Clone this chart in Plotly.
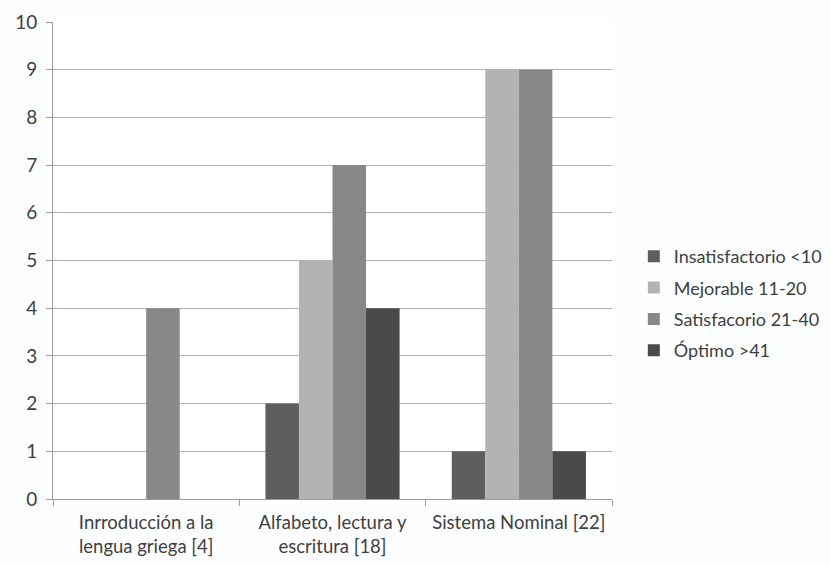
import plotly.graph_objects as go

categories = ["Inrroducción a la<br>lengua griega [4]",
              "Alfabeto, lectura y<br>escritura [18]",
              "Sistema Nominal [22]"]
series_names = ["Insatisfactorio <10", "Mejorable 11-20",
                "Satisfacorio 21-40", "Óptimo >41"]
insatisfactorio = [0, 2, 1]
mejorable = [0, 5, 9]
satisfacorio = [4, 7, 9]
optimo = [0, 4, 1]
y_ticks = list(range(0, 11))

colors = ["#5e5e5e", "#b3b3b3", "#888888", "#4a4a4a"]
values = [insatisfactorio, mejorable, satisfacorio, optimo]

fig = go.Figure()
for i, (name, vals, col) in enumerate(zip(series_names, values, colors)):
    fig.add_trace(go.Bar(
        x=categories, y=vals, name=name,
        marker=dict(color=col, line=dict(width=0)),
        legendgroup=f"g{i}",
    ))

font_family = "Lato, 'Open Sans', sans-serif"
fig.update_layout(
    width=830, height=565,
    margin=dict(l=53, r=218, t=22, b=66, autoexpand=False),
    paper_bgcolor="#fdfeff",
    plot_bgcolor="#ffffff",
    barmode="group",
    bargap=0.28,
    bargroupgap=0,
    font=dict(family=font_family, size=19, color="#404040"),
    legend=dict(
        x=1.039, y=0.41, xanchor="left", yanchor="middle",
        font=dict(size=18, color="#404040"),
        tracegroupgap=5,
        bgcolor="rgba(0,0,0,0)",
    ),
    xaxis=dict(
        showline=True, linecolor="#a09a9a", linewidth=1,
        ticks="outside", tickson="boundaries", ticklen=6,
        tickcolor="#a09a9a",
        showgrid=False,
        tickangle=0, automargin=False,
        ticklabelstandoff=7,
        tickfont=dict(size=18.5, color="#404040"),
    ),
    yaxis=dict(
        range=[0, 10], tickvals=y_ticks,
        showline=True, linecolor="#a09a9a", linewidth=1,
        ticks="outside", ticklen=6, tickcolor="#a09a9a",
        showgrid=True, gridcolor="#bcaeac", gridwidth=1,
        zeroline=False, automargin=False,
        ticklabelstandoff=5,
        tickfont=dict(size=19, color="#404040"),
    ),
)

fig.write_html("out.html")
